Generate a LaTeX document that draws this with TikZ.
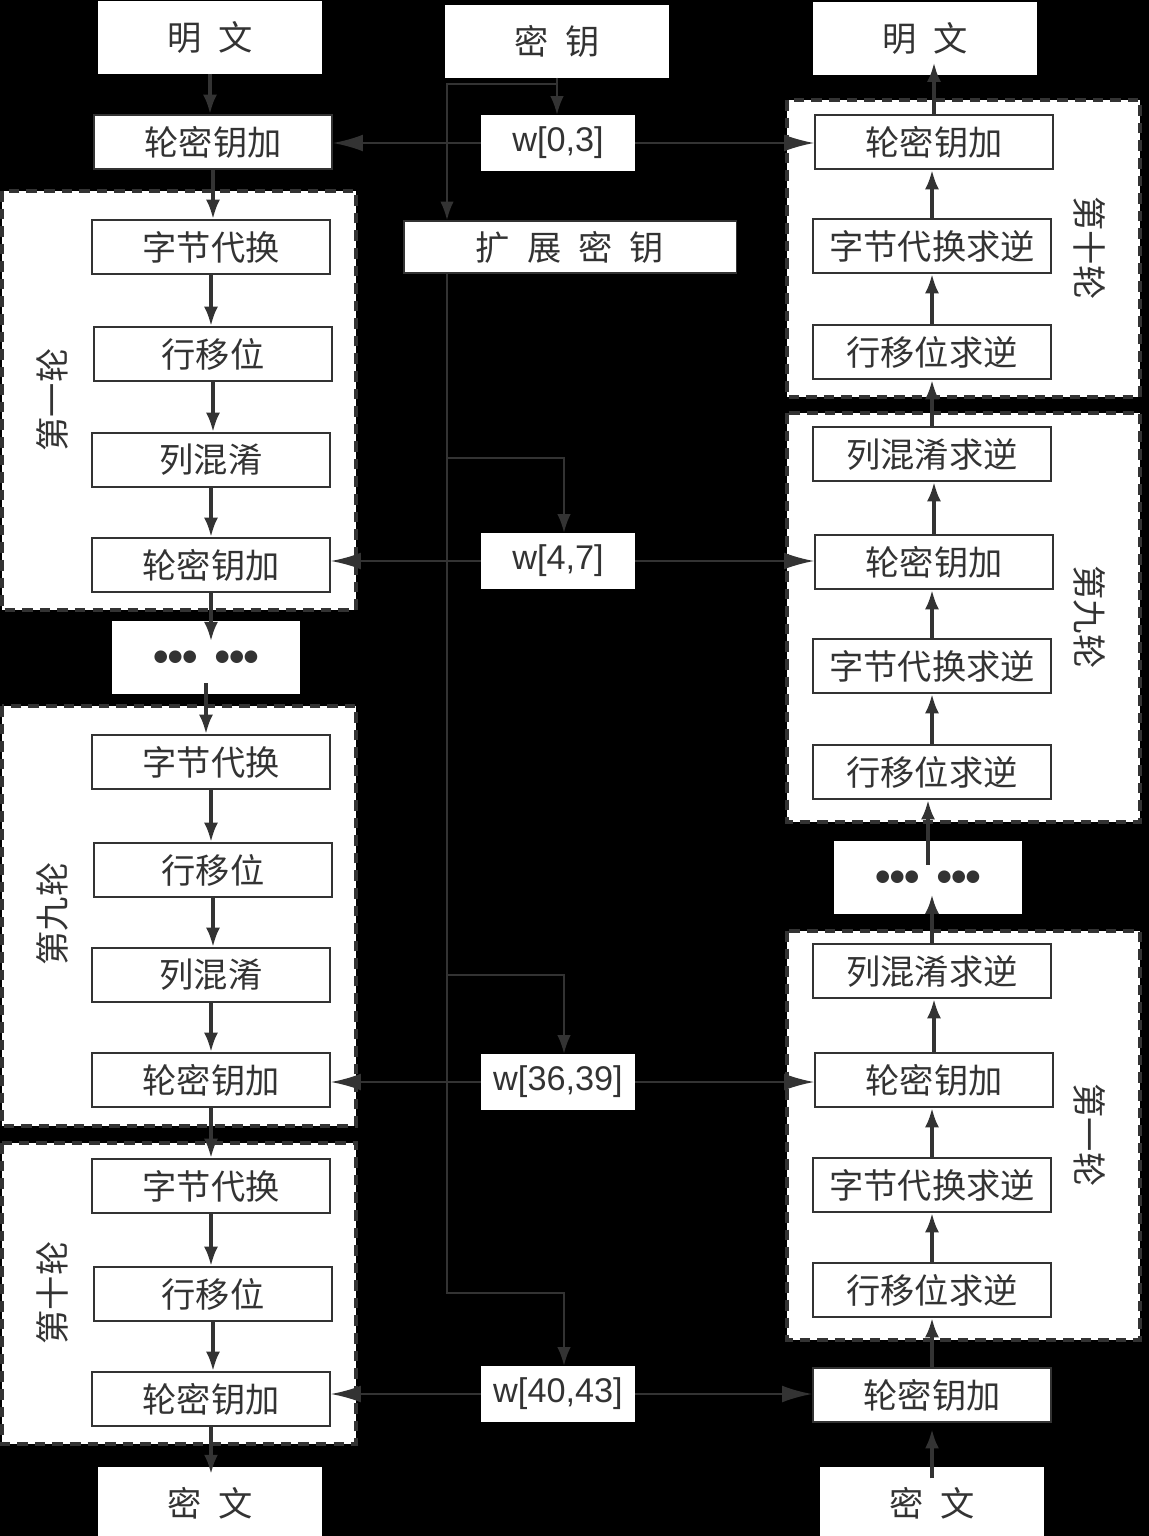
\documentclass[tikz,border=0pt]{standalone}
\usepackage{fontspec}
\setmainfont{Noto Sans CJK SC}
\newfontfamily\latinfont{Liberation Sans}
\newfontfamily\dotfont{DejaVu Sans}
\usetikzlibrary{arrows.meta}
\usetikzlibrary{positioning}
\definecolor{ink}{HTML}{333333}
\newcommand{\cjkgap}{\hspace{0.5em}}
\tikzset{
  opbox/.style={draw=ink,line width=1.1pt,fill=white,text=ink,inner sep=0pt,
    font=\fontsize{19.5}{22}\selectfont,minimum width=4.76cm,minimum height=1.08cm},
  plainbox/.style={fill=white,text=ink,inner sep=0pt,
    font=\fontsize{19.5}{22}\selectfont,minimum width=4.48cm,minimum height=1.46cm},
  dotsbox/.style={fill=white,text=ink,inner sep=0pt,
    font=\dotfont\fontsize{9.4}{10}\selectfont,minimum width=3.76cm,minimum height=1.46cm},
  wbox/.style={fill=white,text=ink,inner sep=0pt,
    font=\latinfont\fontsize{19.5}{22}\selectfont,minimum width=3.08cm,minimum height=1.12cm},
  roundframe/.style={draw=ink,fill=white,line width=2pt,dash pattern=on 6pt off 4pt},
  roundlabel/.style={text=ink,inner sep=0pt,font=\fontsize{19.5}{22}\selectfont},
  flow/.style={draw=ink,line width=2pt,-{Latex[length=11pt,width=8pt]}},
  keyline/.style={draw=ink,line width=1.1pt},
  keydown/.style={keyline,-{Latex[length=10.5pt,width=7.6pt]}},
  keyside/.style={keyline,-{Latex[length=17pt,width=9.5pt]}},
}

\begin{document}
\begin{tikzpicture}[x=0.02cm,y=-0.02cm]
\useasboundingbox (0,0) rectangle (1149,1536);
\fill[black] (0,0) rectangle (1149,1536);

% round frames
\draw[roundframe] (2,191) rectangle (356,610);
\draw[roundframe] (2,706) rectangle (356,1126);
\draw[roundframe] (2,1143) rectangle (356,1444);
\draw[roundframe] (787,100) rectangle (1140,397);
\draw[roundframe] (787,413) rectangle (1140,822);
\draw[roundframe] (787,931) rectangle (1140,1340);

% encryption
\node[plainbox] (plainL) at (210,37) {明\cjkgap 文};
\node[opbox] (arkL0) at (213,142) {轮密钥加};
\node[opbox] (sbL1) at (211,247) {字节代换};
\node[opbox] (srL1) at (213,354) {行移位};
\node[opbox] (mcL1) at (211,460) {列混淆};
\node[opbox] (arkL1) at (211,565) {轮密钥加};
\node[dotsbox] (dotsL) at (206,657) {●●●\hspace{1.1em}●●●};
\node[opbox] (sbL9) at (211,762) {字节代换};
\node[opbox] (srL9) at (213,870) {行移位};
\node[opbox] (mcL9) at (211,975) {列混淆};
\node[opbox] (arkL9) at (211,1080) {轮密钥加};
\node[opbox] (sbL10) at (211,1186) {字节代换};
\node[opbox] (srL10) at (213,1294) {行移位};
\node[opbox] (arkL10) at (211,1399) {轮密钥加};
\node[plainbox] (cipherL) at (210,1503) {密\cjkgap 文};
\node[roundlabel,rotate=90] (labL1) at (52,400) {第一轮};
\node[roundlabel,rotate=90] (labL9) at (52,914) {第九轮};
\node[roundlabel,rotate=90] (labL10) at (52,1293) {第十轮};

% decryption
\node[plainbox] (plainR) at (925,38) {明\cjkgap 文};
\node[opbox] (arkR10) at (934,142) {轮密钥加};
\node[opbox] (sbR10) at (932,246) {字节代换求逆};
\node[opbox] (srR10) at (932,352) {行移位求逆};
\node[opbox] (mcR9) at (932,454) {列混淆求逆};
\node[opbox] (arkR9) at (934,562) {轮密钥加};
\node[opbox] (sbR9) at (932,666) {字节代换求逆};
\node[opbox] (srR9) at (932,772) {行移位求逆};
\node[dotsbox] (dotsR) at (928,877) {●●●\hspace{1.1em}●●●};
\node[opbox] (mcR1) at (932,971) {列混淆求逆};
\node[opbox] (arkR1) at (934,1080) {轮密钥加};
\node[opbox] (sbR1) at (932,1185) {字节代换求逆};
\node[opbox] (srR1) at (932,1290) {行移位求逆};
\node[opbox] (arkR0) at (932,1395) {轮密钥加};
\node[plainbox] (cipherR) at (932,1503) {密\cjkgap 文};
\node[roundlabel,rotate=-90] (labR10) at (1090,248) {第十轮};
\node[roundlabel,rotate=-90] (labR9) at (1090,617) {第九轮};
\node[roundlabel,rotate=-90] (labR1) at (1090,1135) {第一轮};

% key schedule
\node[plainbox] (key) at (557,41) {密\cjkgap 钥};
\node[wbox] (w03) at (558,143) {w[0,3]};
\node[opbox,minimum width=6.66cm,minimum height=1.04cm] (xkey) at (570,247) {扩\cjkgap 展\cjkgap 密\cjkgap 钥};
\node[wbox] (w47) at (558,561) {w[4,7]};
\node[wbox] (w3639) at (558,1082) {w[36,39]};
\node[wbox] (w4043) at (558,1394) {w[40,43]};

\coordinate (kbr) at (557,84);
\coordinate (trunk) at (447,0);
\coordinate (tapA) at (564,458);
\coordinate (tapB) at (564,975);
\coordinate (tapC) at (564,1293);

\draw[keydown] (key.south) -- (key.south |- w03.north);
\draw[keydown] (kbr) -| (trunk |- xkey.north);
\draw[keydown] (trunk |- xkey.south) |- (tapC) -- (tapC |- w4043.north);
\draw[keydown] (trunk |- tapA) -- (tapA) -- (tapA |- w47.north);
\draw[keydown] (trunk |- tapB) -- (tapB) -- (tapB |- w3639.north);

\foreach \w/\l/\r in {w03/arkL0/arkR10, w47/arkL1/arkR9, w3639/arkL9/arkR1, w4043/arkL10/arkR0}{
  \draw[keyside] (\w.west) -- (\w.west -| \l.east);
  \draw[keyside] (\w.east) -- (\w.east -| \r.west);
}

% rounds
\foreach \a/\b/\s/\e in {plainL/arkL0/0/0, arkL0/sbL1/0/0, sbL1/srL1/0/0, srL1/mcL1/0/0, mcL1/arkL1/0/0,
  arkL1/dotsL/0/-12, dotsL/sbL9/-6/0, sbL9/srL9/0/0, srL9/mcL9/0/0, mcL9/arkL9/0/0,
  arkL9/sbL10/0/0, sbL10/srL10/0/0, srL10/arkL10/0/0, arkL10/cipherL/0/-4.5}{
  \draw[flow,shorten <=\s pt,shorten >=\e pt] (\a.south) -- (\a.south |- \b.north);
}
\foreach \a/\b/\s/\e in {cipherR/arkR0/-7/3.5, arkR0/srR1/0/0, srR1/sbR1/0/0, sbR1/arkR1/0/0,
  arkR1/mcR1/0/0, mcR1/dotsR/0/-11, dotsR/srR9/-14/0, srR9/sbR9/0/0, sbR9/arkR9/0/0,
  arkR9/mcR9/0/0, mcR9/srR10/0/0, srR10/sbR10/0/0, sbR10/arkR10/0/0, arkR10/plainR/0/-7}{
  \draw[flow,shorten <=\s pt,shorten >=\e pt] (\a.north) -- (\a.north |- \b.south);
}

\end{tikzpicture}
\end{document}
